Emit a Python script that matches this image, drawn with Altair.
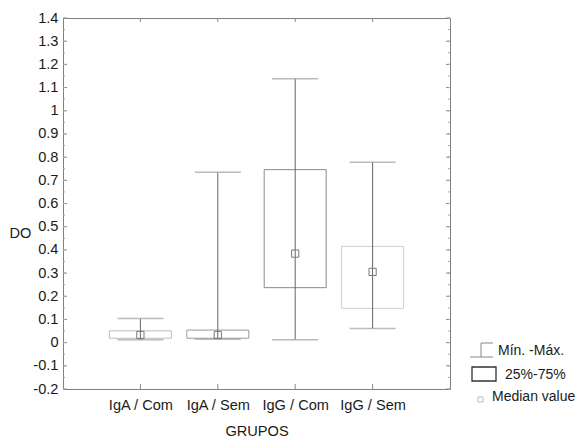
import altair as alt
import pandas as pd

# ---- data ----
groups = ["IgA / Com", "IgA / Sem", "IgG / Com", "IgG / Sem"]
mins = [0.012, 0.015, 0.012, 0.061]
q1s = [0.019, 0.019, 0.237, 0.148]
medians = [0.033, 0.033, 0.384, 0.305]
q3s = [0.051, 0.054, 0.746, 0.415]
maxs = [0.104, 0.735, 1.138, 0.778]
box_colors = ["#bdbdbd", "#9a9a9a", "#8a8a8a", "#cfcfcf"]

y_ticks = [round(-0.2 + 0.1 * i, 1) for i in range(17)]
y_minor = [round(-0.2 + 0.05 * i, 2) for i in range(33)]
legend_labels = ["Mín. -Máx.", "25%-75%", "Median value"]

df = pd.DataFrame({
    "group": groups, "min": mins, "q1": q1s, "median": medians,
    "q3": q3s, "max": maxs, "bc": box_colors,
})

W, H = 387, 371
FONT = "Liberation Sans"
TXT = "#1a1a1a"
FS = 14.6

y_scale = alt.Scale(domain=[-0.2, 1.4], nice=False, zero=False)
y_axis = alt.Axis(
    values=y_ticks,
    labelExpr="replace(format(datum.value, '.1~f'), '\u2212', '-')",
    ticks=False, domain=False, grid=False,
    labelFont=FONT, labelFontSize=FS, labelColor=TXT, labelPadding=5,
    title="DO", titleAngle=0, titleX=-43, titleY=215,
    titleAlign="center", titleBaseline="middle",
    titleFont=FONT, titleFontSize=FS, titleFontWeight="normal", titleColor=TXT,
)
x_enc = alt.X(
    "group:N", sort=groups,
    scale=alt.Scale(type="point", padding=1, domain=groups),
    axis=alt.Axis(
        title="GRUPOS", labelAngle=0, ticks=False, domain=False, grid=False,
        labelFont=FONT, labelFontSize=FS, labelColor=TXT, labelPadding=8,
        titleFont=FONT, titleFontSize=FS, titleFontWeight="normal",
        titleColor=TXT, titlePadding=12,
    ),
)


def Y(field):
    return alt.Y(f"{field}:Q", scale=y_scale, axis=y_axis)


base = alt.Chart(df)

boxes = base.mark_bar(size=62, fill="white", strokeWidth=1).encode(
    x=x_enc, y=Y("q1"), y2="q3", stroke=alt.Stroke("bc:N", scale=None)
)
whisk = base.mark_rule(color="#666666", strokeWidth=1).encode(
    x=x_enc, y=Y("min"), y2="max"
)
cap_lo = base.mark_tick(size=46, thickness=1.5, color="#9e9e9e").encode(
    x=x_enc, y=Y("min")
)
cap_hi = base.mark_tick(size=46, thickness=1.5, color="#9e9e9e").encode(
    x=x_enc, y=Y("max")
)
med = base.mark_point(shape="square", size=52, filled=False, color="#777777",
                      strokeWidth=1, opacity=1).encode(
    x=x_enc, y=Y("median")
)

# inward frame ticks
tdf = pd.DataFrame({"v": y_ticks})
mdf = pd.DataFrame({"v": y_minor})
lt_major = alt.Chart(tdf).mark_rule(color="#888888").encode(
    y=Y("v"), x=alt.value(0), x2=alt.value(4))
rt_major = alt.Chart(tdf).mark_rule(color="#888888").encode(
    y=Y("v"), x=alt.value(W - 4), x2=alt.value(W))
lt_minor = alt.Chart(mdf).mark_rule(color="#aaaaaa").encode(
    y=Y("v"), x=alt.value(0), x2=alt.value(2))
rt_minor = alt.Chart(mdf).mark_rule(color="#aaaaaa").encode(
    y=Y("v"), x=alt.value(W - 2), x2=alt.value(W))
bt = base.mark_rule(color="#888888").encode(
    x=x_enc, y=alt.value(H - 5), y2=alt.value(H))
tt = base.mark_rule(color="#888888").encode(
    x=x_enc, y=alt.value(0), y2=alt.value(4))

# manual legend
ldf = pd.DataFrame({"t": [0]})
lg_v = alt.Chart(ldf).mark_rule(color="#888888").encode(
    x=alt.value(418), y=alt.value(325), y2=alt.value(339))
lg_top = alt.Chart(ldf).mark_rule(color="#888888").encode(
    x=alt.value(418), x2=alt.value(430), y=alt.value(325))
lg_bot = alt.Chart(ldf).mark_rule(color="#888888").encode(
    x=alt.value(407), x2=alt.value(430), y=alt.value(339))
lg_rect = alt.Chart(ldf).mark_rect(fill="white", stroke="#333333", strokeWidth=1.3).encode(
    x=alt.value(409), x2=alt.value(433), y=alt.value(349), y2=alt.value(363))
lg_sq = alt.Chart(ldf).mark_rect(fill="white", stroke="#bbbbbb", strokeWidth=1).encode(
    x=alt.value(415), x2=alt.value(420), y=alt.value(379), y2=alt.value(384))

text_pos = [(435, 333), (442, 357), (429, 379)]
lg_texts = []
for lab, (px, py) in zip(legend_labels, text_pos):
    lg_texts.append(
        alt.Chart(pd.DataFrame({"t": [lab]})).mark_text(
            align="left", baseline="middle", font=FONT, fontSize=14, color=TXT
        ).encode(text="t:N", x=alt.value(px), y=alt.value(py))
    )

chart = alt.layer(
    boxes, whisk, cap_lo, cap_hi, med,
    lt_major, rt_major, lt_minor, rt_minor, bt, tt,
    lg_v, lg_top, lg_bot, lg_rect, lg_sq, *lg_texts,
).properties(
    width=W, height=H,
    padding={"left": 55, "top": 10, "right": 126, "bottom": 51},
    autosize=alt.AutoSizeParams(type="none"),
    background="white",
).configure_view(stroke="#808080", strokeWidth=1)

chart.save("out.html", embed_options={"renderer": "svg", "actions": False})
